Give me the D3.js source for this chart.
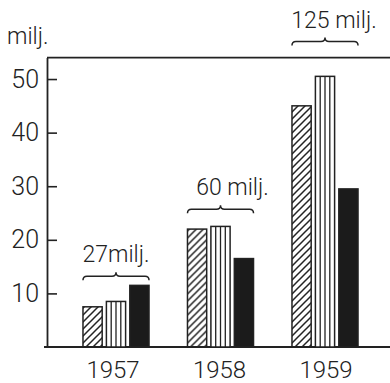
<!DOCTYPE html>
<html>
<head>
<meta charset="utf-8">
<script src="https://cdn.jsdelivr.net/npm/d3@7"></script>
<style>
  html, body { margin: 0; padding: 0; background: #fff; }
  svg { display: block; }
  text { font-family: Roboto, "DejaVu Sans", sans-serif; font-weight: 300; fill: #222; }
</style>
</head>
<body>
<div id="chart"></div>
<script>
// Yearly figures (millions) for three series per year
const years = ["1957", "1958", "1959"];
const hatchedValues = [7.5, 22, 45];
const stripedValues = [8.5, 22.5, 50.5];
const solidValues = [11.5, 16.5, 29.5];
const totalLabels = ["27milj.", "60 milj.", "125 milj."];
const yTickValues = [10, 20, 30, 40, 50];
const unitLabel = "milj.";

const W = 390, H = 383;
const ink = "#222";

const svg = d3.select("#chart").append("svg")
  .attr("width", W).attr("height", H);

const defs = svg.append("defs");
const hatch = defs.append("pattern")
  .attr("id", "hatch").attr("patternUnits", "userSpaceOnUse")
  .attr("width", 7).attr("height", 7);
hatch.append("path")
  .attr("d", "M-1,8 L8,-1 M-4,4 L4,-4 M3,11 L11,3")
  .attr("stroke", ink).attr("stroke-width", 1.5);

// Scales
const y = d3.scaleLinear().domain([0, 54]).range([347, 57.6]);
const x = d3.scaleBand().domain(years).range([63.75, 377.25])
  .paddingInner(0.368).paddingOuter(0.184);
const xs = d3.scaleBand().domain([0, 1, 2]).range([0, x.bandwidth()]).paddingInner(0.18);

const axisX = 47;

// Frame: top rule and baseline
svg.append("line").attr("x1", axisX).attr("x2", W).attr("y1", y(54)).attr("y2", y(54))
  .attr("stroke", ink).attr("stroke-width", 1.8);
svg.append("line").attr("x1", axisX - 3).attr("x2", W).attr("y1", y(0)).attr("y2", y(0))
  .attr("stroke", ink).attr("stroke-width", 1.8);

// Value axis with inward ticks
const yAxis = svg.append("g").attr("transform", `translate(${axisX},0)`)
  .call(d3.axisLeft(y).tickValues(yTickValues).tickSize(-10).tickSizeOuter(0).tickPadding(8));
yAxis.attr("font-family", null).attr("font-size", null);
yAxis.select(".domain").attr("stroke", ink).attr("stroke-width", 1.8);
yAxis.selectAll(".tick line").attr("stroke", ink).attr("stroke-width", 1.6);
yAxis.selectAll(".tick text").attr("font-size", 25).attr("fill", ink);

svg.append("text").attr("x", 7).attr("y", 44).attr("font-size", 23).text(unitLabel);

// Bars
const groups = svg.append("g").selectAll("g").data(years).join("g")
  .attr("transform", d => `translate(${x(d)},0)`);

const series = [
  { values: hatchedValues, kind: "hatch" },
  { values: stripedValues, kind: "stripe" },
  { values: solidValues, kind: "solid" }
];

groups.each(function (yr, i) {
  const g = d3.select(this);
  series.forEach((s, j) => {
    const v = s.values[i];
    const bx = xs(j), bw = xs.bandwidth();
    const top = y(v), h = y(0) - y(v);
    g.append("rect").attr("x", bx).attr("y", top).attr("width", bw).attr("height", h)
      .attr("fill", s.kind === "hatch" ? "url(#hatch)" : s.kind === "solid" ? "#1b1b1b" : "#fff")
      .attr("stroke", ink).attr("stroke-width", 1.5);
    if (s.kind === "stripe") {
      d3.range(1, 4).forEach(k => {
        g.append("line").attr("x1", bx + bw * k / 4).attr("x2", bx + bw * k / 4)
          .attr("y1", top).attr("y2", y(0))
          .attr("stroke", ink).attr("stroke-width", 1.3);
      });
    }
  });
});

// Year labels
svg.append("g").selectAll("text").data(years).join("text")
  .attr("x", (d, i) => x(d) + x.bandwidth() / 2 - 3 + i * 2)
  .attr("y", 378).attr("text-anchor", "middle").attr("font-size", 24)
  .text(d => d);

// Totals with braces above each group
const braceLevel = [13.2, 25.7, 57];
function bracePath(x0, x1, yy) {
  const m = (x0 + x1) / 2, d = 4;
  return `M${x0},${yy + d} Q${x0},${yy} ${x0 + d},${yy} L${m - d},${yy} Q${m},${yy} ${m},${yy - d}` +
         ` Q${m},${yy} ${m + d},${yy} L${x1 - d},${yy} Q${x1},${yy} ${x1},${yy + d}`;
}
years.forEach((yr, i) => {
  const yy = y(braceLevel[i]);
  svg.append("path").attr("d", bracePath(x(yr), x(yr) + x.bandwidth(), yy))
    .attr("fill", "none").attr("stroke", ink).attr("stroke-width", 1.5);
  svg.append("text").attr("x", x(yr) + x.bandwidth() / 2 + [0, 12, 9][i])
    .attr("y", yy - 14).attr("text-anchor", "middle").attr("font-size", 23)
    .text(totalLabels[i]);
});
</script>
</body>
</html>
